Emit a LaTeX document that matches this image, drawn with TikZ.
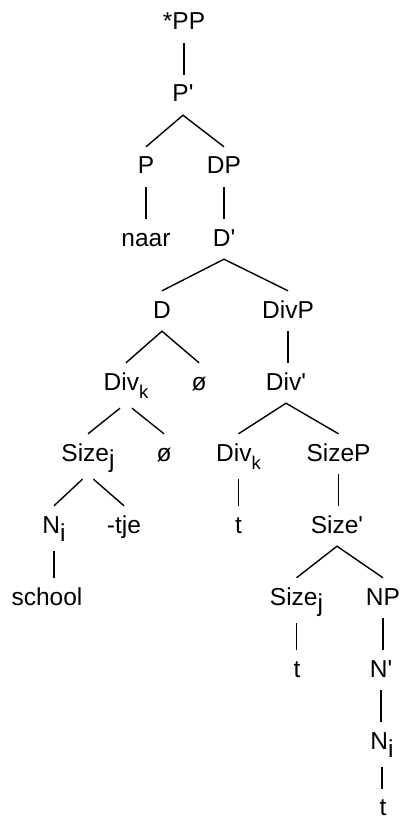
\documentclass[tikz,border=0pt]{standalone}
\usepackage{fontspec}
\setmainfont{Liberation Sans}[Ligatures=TeXOff]
% index subscripts: i and j at full size, k set smaller
\newcommand{\idxfull}[2][8pt]{\raisebox{-#1}{#2}}
\newcommand{\idxsmall}[1]{\raisebox{-8pt}{\fontsize{18.5}{18.5}\selectfont #1}}
\begin{document}
\begin{tikzpicture}[x=1pt,y=-1pt,
  lbl/.style={anchor=base, inner xsep=0pt, inner ysep=10pt,
    text height=17pt, text depth=3pt, font=\fontsize{24.5}{29}\selectfont},
  lblsub/.style={lbl, text depth=8pt},
  lbllast/.style={lbl, inner ysep=1pt, text height=25pt, text depth=0pt},
  edge/.style={line width=1.4pt, black}]
\useasboundingbox (0,0) rectangle (401,821);
\fill[white] (0,0) rectangle (401,821);

% labels, one row per tree level (x = centre, y = baseline)
\node[lbl] (pp)      at (184,30)  {*PP};
\node[lbl] (pbar)    at (183,102) {P'};
\node[lbl] (p)       at (146,174) {P};
\node[lbl] (dp)      at (224,174) {DP};
\node[lbl] (naar)    at (146,246) {naar};
\node[lbl] (dbar)    at (224,246) {D'};
\node[lbl] (d)       at (162,318) {D};
\node[lbl] (divp)    at (288,318) {DivP};
\node[lblsub] (divk1) at (126,390) {Div\idxsmall{k}};
\node[lbl] (null1)   at (199,390) {ø};
\node[lbl] (divbar)  at (286,390) {Div'};
\node[lblsub] (sizej1) at (88,461) {Size\idxfull[6pt]{j}};
\node[lbl] (null2)   at (164,461) {ø};
\node[lblsub] (divk2) at (238.5,461) {Div\idxsmall{k}};
\node[lbl] (sizep)   at (338.5,461) {SizeP};
\node[lblsub] (ni1)  at (54,533)  {N\idxfull{i}};
\node[lbl] (tje)     at (124,533) {-tje};
\node[lbl] (t1)      at (238.5,533) {t};
\node[lbl] (sizebar) at (337,533) {Size'};
\node[lbl] (school)  at (47,605)  {school};
\node[lblsub] (sizej2) at (296.5,605) {Size\idxfull[6pt]{j}};
\node[lbl] (np)      at (383,605) {NP};
\node[lbl] (t2)      at (297,677) {t};
\node[lbl] (nbar)    at (381,677) {N'};
\node[lblsub] (ni2)  at (382,749) {N\idxfull{i}};
\node[lbllast] (t3)  at (383,815) {t};

% branches
\draw[edge] (pp.south) -- (pp.south |- pbar.north);
\draw[edge] (p.north) -- (pbar.south) -- (dp.north);
\draw[edge] (p.south) -- (p.south |- naar.north);
\draw[edge] (dp.south) -- (dp.south |- dbar.north);
\draw[edge] (d.north) -- (dbar.south) -- (divp.north);
\draw[edge] (divk1.north) -- (d.south) -- (null1.north);
\draw[edge] (divp.south) -- (divp.south |- divbar.north);
\draw[edge] (divk2.north) -- (divbar.south) -- (sizep.north);
\draw[edge] ([xshift=-6pt]divk1.south) -- (sizej1.north);
\draw[edge] ([xshift=6pt]divk1.south) -- (null2.north);
\draw[edge] ([xshift=-5.5pt]sizej1.south) -- (ni1.north);
\draw[edge] ([xshift=5.5pt]sizej1.south) -- (tje.north);
\draw[edge] (ni1.south) -- (ni1.south |- school.north);
\draw[edge] (divk2.south) -- (divk2.south |- t1.north);
\draw[edge] (sizep.south) -- (sizep.south |- sizebar.north);
\draw[edge] (sizej2.north) -- (sizebar.south) -- (np.north);
\draw[edge] (sizej2.south) -- (sizej2.south |- t2.north);
\draw[edge] (np.south) -- (np.south |- nbar.north);
\draw[edge] (nbar.south) -- (nbar.south |- ni2.north);
\draw[edge] (ni2.south) -- (ni2.south |- t3.north);
\end{tikzpicture}
\end{document}
